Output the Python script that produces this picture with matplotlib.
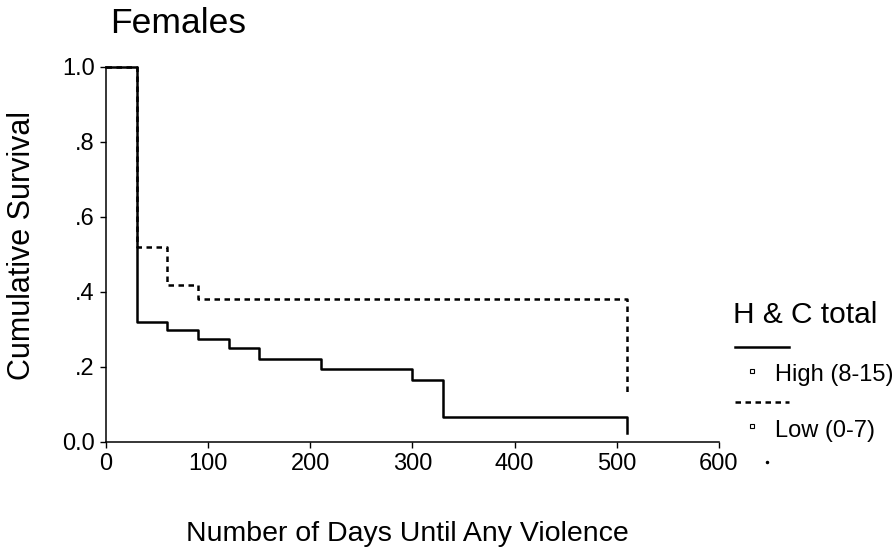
import matplotlib
matplotlib.use("Agg")
import matplotlib.pyplot as plt
from matplotlib.lines import Line2D

plt.rcParams['font.family'] = ['Liberation Sans', 'DejaVu Sans']

# Kaplan-Meier survival estimates, step values after each event time (days)
high_days = [0, 30, 60, 90, 120, 150, 210, 300, 330, 510]
high_surv = [1.0, 0.32, 0.298, 0.275, 0.25, 0.22, 0.194, 0.165, 0.067, 0.025]

low_days = [0, 30, 60, 90, 510]
low_surv = [1.0, 0.52, 0.417, 0.38, 0.13]

xticks = [0, 100, 200, 300, 400, 500, 600]
yticks = [0.0, 0.2, 0.4, 0.6, 0.8, 1.0]
ytick_labels = ["0.0", ".2", ".4", ".6", ".8", "1.0"]

W, H = 895, 550


def px(x, y):
    # pixel position (from top-left) to figure fraction
    return x / W, 1 - y / H


fig = plt.figure(figsize=(W / 100, H / 100), dpi=100)
ax = fig.add_axes([106 / W, 1 - 442 / H, 613 / W, 375.5 / H])

ax.step(high_days, high_surv, where="post", color="black", lw=1.8, clip_on=False)
ax.step(low_days, low_surv, where="post", color="black", lw=1.8,
        dashes=(2.2, 1.8), clip_on=False)

ax.set_xlim(0, 600)
ax.set_ylim(0, 1)
ax.set_xticks(xticks)
ax.set_yticks(yticks)
ax.set_yticklabels(ytick_labels)
ax.tick_params(direction="out", length=4, width=1, labelsize=17, pad=4)
ax.spines["top"].set_visible(False)
ax.spines["right"].set_visible(False)
for s in ("left", "bottom"):
    ax.spines[s].set_linewidth(1.1)

# axis titles placed in figure pixels
fig.text(*px(407, 541), "Number of Days Until Any Violence", fontsize=20.5,
         ha="center", va="baseline")
fig.text(*px(22, 245), "Cumulative Survival", fontsize=22, rotation=90,
         ha="center", va="center")

fig.text(*px(110, 33), "Females", fontsize=25.5, ha="left", va="baseline")

# legend drawn by hand: line sample above each marker + label
fig.text(*px(733, 323), "H & C total", fontsize=21.5, ha="left", va="baseline")
x0, y0 = px(735, 347)
x1, _ = px(789, 347)
fig.add_artist(Line2D([x0, x1], [y0, y0], color="black", lw=1.8,
                      transform=fig.transFigure))
x0, y0 = px(735, 402)
fig.add_artist(Line2D([x0, x1], [y0, y0], color="black", lw=1.8,
                      dashes=(2.2, 1.8), transform=fig.transFigure))
for label, ym, yb in [("High (8-15)", 370.5, 380.5), ("Low (0-7)", 426, 436.5)]:
    mx, my = px(752, ym)
    fig.add_artist(Line2D([mx], [my], marker="s", ms=3.2, mfc="white",
                          mec="black", mew=0.8, ls="none",
                          transform=fig.transFigure))
    fig.text(*px(775, yb), label, fontsize=17, ha="left", va="baseline")

dx, dy = px(767, 462)
fig.add_artist(Line2D([dx], [dy], marker="o", ms=1.5, color="black",
                      ls="none", transform=fig.transFigure))

fig.savefig("out.png", dpi=100)
